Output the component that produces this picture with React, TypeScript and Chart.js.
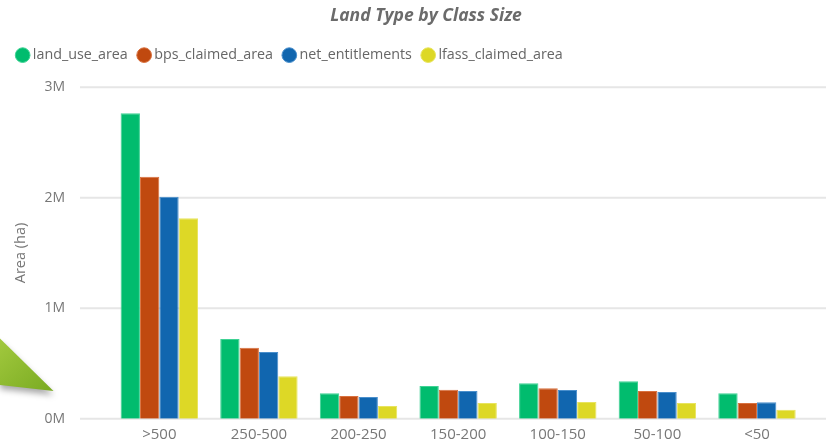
import React, { useEffect, useRef } from 'react';
import { Chart, registerables } from 'chart.js';

Chart.register(...registerables);

const categories = ['>500', '250-500', '200-250', '150-200', '100-150', '50-100', '<50'];
const seriesNames = ['land_use_area', 'bps_claimed_area', 'net_entitlements', 'lfass_claimed_area'];
const landUseArea = [2765000, 721000, 230000, 296000, 320000, 339000, 230000];
const bpsClaimedArea = [2191000, 643000, 205000, 263000, 275000, 251000, 142000];
const netEntitlements = [2010000, 604000, 196000, 251000, 260000, 242000, 148000];
const lfassClaimedArea = [1814000, 384000, 115000, 142000, 151000, 142000, 81000];
const yTickValues = [0, 1000000, 2000000, 3000000];
const chartTitle = 'Land Type by Class Size';
const yAxisTitle = 'Area (ha)';

const seriesColors = ['#01BC6E', '#C0490F', '#1166AF', '#DDD826'];
const seriesBorders = ['#3fd294', '#d9713f', '#4a8fcc', '#e8e45e'];
const FONT = '"Open Sans", "Noto Sans", sans-serif';

const gridPlugin = {
  id: 'extendedGrid',
  beforeDatasetsDraw(chart: any) {
    const ctx = chart.ctx;
    const y = chart.scales.y;
    ctx.save();
    ctx.strokeStyle = '#e6e6e6';
    ctx.lineWidth = 2;
    yTickValues.forEach((v) => {
      const py = y.getPixelForValue(v);
      ctx.beginPath();
      ctx.moveTo(80, py);
      ctx.lineTo(chart.width, py);
      ctx.stroke();
    });
    ctx.restore();
  },
};

const titlePlugin = {
  id: 'offsetTitle',
  afterDraw(chart: any) {
    const ctx = chart.ctx;
    ctx.save();
    ctx.font = 'italic bold 17.5px ' + FONT;
    ctx.fillStyle = '#6b6b6b';
    ctx.textAlign = 'center';
    ctx.textBaseline = 'middle';
    ctx.fillText(chartTitle, 426, 16);
    ctx.restore();
  },
};

const arrowPlugin = {
  id: 'arrowDecoration',
  afterDraw(chart: any) {
    const ctx = chart.ctx;
    ctx.save();
    ctx.shadowColor = 'rgba(0,0,0,0.35)';
    ctx.shadowBlur = 6;
    ctx.shadowOffsetY = 4;
    const g = ctx.createLinearGradient(0, 338, 50, 392);
    g.addColorStop(0, '#a2c93e');
    g.addColorStop(1, '#7aab22');
    ctx.fillStyle = g;
    ctx.beginPath();
    ctx.moveTo(0, 338.5);
    ctx.lineTo(53.5, 391);
    ctx.lineTo(0, 385);
    ctx.closePath();
    ctx.fill();
    ctx.restore();
  },
};

const legendSpacer = {
  id: 'legendSpacer',
  beforeInit(chart: any) {
    const legend = chart.legend;
    if (!legend) return;
    const origFit = legend.fit;
    legend.fit = function () {
      origFit.call(this);
      this.height = 52.6;
    };
  },
};

export default function App() {
  const ref = useRef<HTMLCanvasElement | null>(null);

  useEffect(() => {
    if (!ref.current) return;
    const values = [landUseArea, bpsClaimedArea, netEntitlements, lfassClaimedArea];
    const chart = new Chart(ref.current, {
      type: 'bar',
      data: {
        labels: categories,
        datasets: seriesNames.map((name, i) => ({
          label: name,
          data: values[i],
          backgroundColor: seriesColors[i],
          borderColor: seriesBorders[i],
          borderWidth: 1,
          categoryPercentage: 0.777,
          barPercentage: 1,
        })),
      },
      options: {
        animation: false,
        responsive: true,
        maintainAspectRatio: false,
        layout: { padding: { left: 6.3, top: 34.7, right: 19.2, bottom: 0 } },
        plugins: {
          title: { display: false },
          tooltip: { enabled: false },
          legend: {
            display: true,
            position: 'top',
            align: 'start',
            labels: {
              usePointStyle: true,
              pointStyle: 'circle',
              boxWidth: 6.1,
              boxHeight: 10.4,
              padding: 13.3,
              color: '#666666',
              font: { family: FONT, size: 14.3 },
            },
          },
        },
        scales: {
          x: {
            grid: { display: false, drawTicks: false },
            border: { display: false },
            afterFit(scale: any) {
              scale.height = 23.3;
            },
            ticks: { color: '#777777', font: { family: FONT, size: 15 }, padding: 7, maxRotation: 0 },
          },
          y: {
            min: 0,
            max: 3000000,
            grid: { display: false, drawTicks: true, tickLength: 40.5 },
            border: { display: false },
            afterFit(scale: any) {
              scale.width = 103.2;
            },
            afterBuildTicks(scale: any) {
              scale.ticks = yTickValues.map((v) => ({ value: v }));
            },
            ticks: {
              color: '#777777',
              font: { family: FONT, size: 14 },
              padding: 4,
              callback: (v: any) => Number(v) / 1000000 + 'M',
            },
            title: {
              display: true,
              text: yAxisTitle,
              color: '#777777',
              font: { family: FONT, size: 14.5 },
              padding: { top: 6, bottom: 0 },
            },
          },
        },
      },
      plugins: [legendSpacer, gridPlugin, titlePlugin, arrowPlugin],
    } as any);
    return () => chart.destroy();
  }, []);

  return (
    <div style={{ position: 'fixed', left: 0, top: 0, width: 826, height: 442, background: '#ffffff' }}>
      <canvas ref={ref} />
    </div>
  );
}
